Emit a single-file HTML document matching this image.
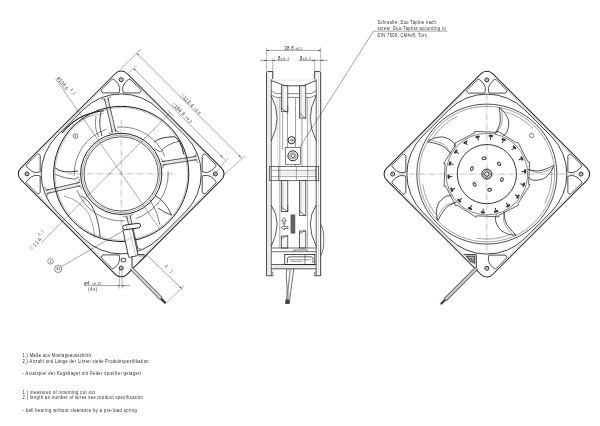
<!DOCTYPE html><html><head><meta charset="utf-8"><style>html,body{margin:0;padding:0;background:#fff;width:600px;height:426px;overflow:hidden}svg{display:block} text{-webkit-font-smoothing:antialiased}</style></head><body><svg width="600" height="426" viewBox="0 0 600 426" font-family="Liberation Sans, sans-serif">
<rect width="600" height="426" fill="#fff"/>
<g style="will-change:transform">
<g transform="translate(486.85,174.1) rotate(45)">
<rect x="-75.1" y="-75.1" width="150.2" height="150.2" rx="8.2" stroke="#222" stroke-width="1.0" fill="none"/>
</g>
<path d="M495.65,79.1 L506.95,90.4 Q506.85,92.5 505.05,93.1 L489.05,93.1 Q488.25,92.1 488.35,87.6 Q489.45,83.9 492.35,81.1 Q494.25,79.3 495.65,79.1Z" stroke="#222" stroke-width="0.8" fill="none" />
<path d="M478.05,79.1 L466.75,90.4 Q466.85,92.5 468.65,93.1 L484.65,93.1 Q485.45,92.1 485.35,87.6 Q484.25,83.9 481.35,81.1 Q479.45,79.3 478.05,79.1Z" stroke="#222" stroke-width="0.8" fill="none" />
<circle cx="486.85" cy="79.9" r="2" stroke="#222" stroke-width="1.0" fill="none" />
<circle cx="486.85" cy="79.9" r="0.7" stroke="#555" stroke-width="0.5" fill="none" />
<path d="M581.85,182.9 L570.55,194.2 Q568.45,194.1 567.85,192.3 L567.85,176.3 Q568.85,175.5 573.35,175.6 Q577.05,176.7 579.85,179.6 Q581.65,181.5 581.85,182.9Z" stroke="#222" stroke-width="0.8" fill="none" />
<path d="M581.85,165.3 L570.55,154 Q568.45,154.1 567.85,155.9 L567.85,171.9 Q568.85,172.7 573.35,172.6 Q577.05,171.5 579.85,168.6 Q581.65,166.7 581.85,165.3Z" stroke="#222" stroke-width="0.8" fill="none" />
<circle cx="581.05" cy="174.1" r="2" stroke="#222" stroke-width="1.0" fill="none" />
<circle cx="581.05" cy="174.1" r="0.7" stroke="#555" stroke-width="0.5" fill="none" />
<path d="M495.65,269.1 L506.95,257.8 Q506.85,255.7 505.05,255.1 L489.05,255.1 Q488.25,256.1 488.35,260.6 Q489.45,264.3 492.35,267.1 Q494.25,268.9 495.65,269.1Z" stroke="#222" stroke-width="0.8" fill="none" />
<circle cx="486.85" cy="268.3" r="2" stroke="#222" stroke-width="1.0" fill="none" />
<circle cx="486.85" cy="268.3" r="0.7" stroke="#555" stroke-width="0.5" fill="none" />
<path d="M391.85,165.3 L403.15,154 Q405.25,154.1 405.85,155.9 L405.85,171.9 Q404.85,172.7 400.35,172.6 Q396.65,171.5 393.85,168.6 Q392.05,166.7 391.85,165.3Z" stroke="#222" stroke-width="0.8" fill="none" />
<path d="M391.85,182.9 L403.15,194.2 Q405.25,194.1 405.85,192.3 L405.85,176.3 Q404.85,175.5 400.35,175.6 Q396.65,176.7 393.85,179.6 Q392.05,181.5 391.85,182.9Z" stroke="#222" stroke-width="0.8" fill="none" />
<circle cx="392.65" cy="174.1" r="2" stroke="#222" stroke-width="1.0" fill="none" />
<circle cx="392.65" cy="174.1" r="0.7" stroke="#555" stroke-width="0.5" fill="none" />
<g transform="translate(486.85,174.1) rotate(45)">
<rect x="-72.3" y="-72.3" width="144.6" height="144.6" rx="53.7" stroke="#222" stroke-width="0.8" fill="none"/>
<g transform="rotate(0)"><line x1="-73.6" y1="-52" x2="-73.6" y2="52" stroke="#aaa" stroke-width="1.2" stroke-dasharray="0.5,0.6"/></g>
<g transform="rotate(90)"><line x1="-73.6" y1="-52" x2="-73.6" y2="52" stroke="#aaa" stroke-width="1.2" stroke-dasharray="0.5,0.6"/></g>
<g transform="rotate(180)"><line x1="-73.6" y1="-52" x2="-73.6" y2="52" stroke="#aaa" stroke-width="1.2" stroke-dasharray="0.5,0.6"/></g>
<g transform="rotate(270)"><line x1="-73.6" y1="-52" x2="-73.6" y2="52" stroke="#aaa" stroke-width="1.2" stroke-dasharray="0.5,0.6"/></g>
</g>
<circle cx="486.85" cy="174.1" r="70" stroke="#222" stroke-width="0.8" fill="none" />
<circle cx="486.85" cy="174.1" r="67.8" stroke="#444" stroke-width="0.5" fill="none" />
<line x1="486.85" y1="94.1" x2="486.85" y2="254.1" stroke="#666" stroke-width="0.4" stroke-dasharray="6,1.5,1,1.5"/>
<line x1="398.85" y1="174.1" x2="576.85" y2="174.1" stroke="#666" stroke-width="0.4" stroke-dasharray="6,1.5,1,1.5"/>
<circle cx="486.85" cy="174.1" r="29.6" stroke="#222" stroke-width="0.9" fill="none" />
<circle cx="486.85" cy="174.1" r="5" stroke="#222" stroke-width="1.0" fill="none" />
<circle cx="486.85" cy="174.1" r="3.6" stroke="#444" stroke-width="0.6" fill="none" />
<circle cx="486.85" cy="174.1" r="2.2" stroke="#222" stroke-width="0.9" fill="none" />
<path d="M497.62,130.92 L516.71,143.16 L517.76,142.09 M517.76,142.09 L528.18,162.24 L529.63,161.83 M529.63,161.83 L528.57,184.5 L530.03,184.87 M530.03,184.87 L517.79,203.96 L518.86,205.01 M518.86,205.01 L498.71,215.43 L499.12,216.88 M499.12,216.88 L476.45,215.82 L476.08,217.28 M476.08,217.28 L456.99,205.04 L455.94,206.11 M455.94,206.11 L445.52,185.96 L444.07,186.37 M444.07,186.37 L445.13,163.7 L443.67,163.33 M443.67,163.33 L455.91,144.24 L454.84,143.19 M454.84,143.19 L474.99,132.77 L474.58,131.32 M474.58,131.32 L497.25,132.38 L497.62,130.92 " stroke="#222" stroke-width="0.7" fill="none" />
<circle cx="486.85" cy="174.1" r="40.8" stroke="#333" stroke-width="0.6" fill="none" />
<g transform="translate(490.85,136.01) rotate(6)"><rect x="-2.2" y="-1.1" width="4.4" height="2.0" rx="0.8" fill="#333"/><line x1="0" y1="0" x2="0" y2="3.6" stroke="#333" stroke-width="1.0"/></g>
<g transform="translate(503.64,139.68) rotate(26)"><rect x="-2.2" y="-1.1" width="4.4" height="2.0" rx="0.8" fill="#333"/><line x1="0" y1="0" x2="0" y2="3.6" stroke="#333" stroke-width="1.0"/></g>
<g transform="translate(514.4,147.49) rotate(46)"><rect x="-2.2" y="-1.1" width="4.4" height="2.0" rx="0.8" fill="#333"/><line x1="0" y1="0" x2="0" y2="3.6" stroke="#333" stroke-width="1.0"/></g>
<g transform="translate(521.84,158.52) rotate(66)"><rect x="-2.2" y="-1.1" width="4.4" height="2.0" rx="0.8" fill="#333"/><line x1="0" y1="0" x2="0" y2="3.6" stroke="#333" stroke-width="1.0"/></g>
<g transform="translate(525.06,171.43) rotate(86)"><rect x="-2.2" y="-1.1" width="4.4" height="2.0" rx="0.8" fill="#333"/><line x1="0" y1="0" x2="0" y2="3.6" stroke="#333" stroke-width="1.0"/></g>
<g transform="translate(523.67,184.66) rotate(106)"><rect x="-2.2" y="-1.1" width="4.4" height="2.0" rx="0.8" fill="#333"/><line x1="0" y1="0" x2="0" y2="3.6" stroke="#333" stroke-width="1.0"/></g>
<g transform="translate(517.84,196.61) rotate(126)"><rect x="-2.2" y="-1.1" width="4.4" height="2.0" rx="0.8" fill="#333"/><line x1="0" y1="0" x2="0" y2="3.6" stroke="#333" stroke-width="1.0"/></g>
<g transform="translate(508.27,205.85) rotate(146)"><rect x="-2.2" y="-1.1" width="4.4" height="2.0" rx="0.8" fill="#333"/><line x1="0" y1="0" x2="0" y2="3.6" stroke="#333" stroke-width="1.0"/></g>
<g transform="translate(496.12,211.26) rotate(166)"><rect x="-2.2" y="-1.1" width="4.4" height="2.0" rx="0.8" fill="#333"/><line x1="0" y1="0" x2="0" y2="3.6" stroke="#333" stroke-width="1.0"/></g>
<g transform="translate(482.85,212.19) rotate(186)"><rect x="-2.2" y="-1.1" width="4.4" height="2.0" rx="0.8" fill="#333"/><line x1="0" y1="0" x2="0" y2="3.6" stroke="#333" stroke-width="1.0"/></g>
<g transform="translate(470.06,208.52) rotate(206)"><rect x="-2.2" y="-1.1" width="4.4" height="2.0" rx="0.8" fill="#333"/><line x1="0" y1="0" x2="0" y2="3.6" stroke="#333" stroke-width="1.0"/></g>
<g transform="translate(459.3,200.71) rotate(226)"><rect x="-2.2" y="-1.1" width="4.4" height="2.0" rx="0.8" fill="#333"/><line x1="0" y1="0" x2="0" y2="3.6" stroke="#333" stroke-width="1.0"/></g>
<g transform="translate(451.86,189.68) rotate(246)"><rect x="-2.2" y="-1.1" width="4.4" height="2.0" rx="0.8" fill="#333"/><line x1="0" y1="0" x2="0" y2="3.6" stroke="#333" stroke-width="1.0"/></g>
<g transform="translate(448.64,176.77) rotate(266)"><rect x="-2.2" y="-1.1" width="4.4" height="2.0" rx="0.8" fill="#333"/><line x1="0" y1="0" x2="0" y2="3.6" stroke="#333" stroke-width="1.0"/></g>
<g transform="translate(450.03,163.54) rotate(286)"><rect x="-2.2" y="-1.1" width="4.4" height="2.0" rx="0.8" fill="#333"/><line x1="0" y1="0" x2="0" y2="3.6" stroke="#333" stroke-width="1.0"/></g>
<g transform="translate(455.86,151.59) rotate(306)"><rect x="-2.2" y="-1.1" width="4.4" height="2.0" rx="0.8" fill="#333"/><line x1="0" y1="0" x2="0" y2="3.6" stroke="#333" stroke-width="1.0"/></g>
<g transform="translate(465.43,142.35) rotate(326)"><rect x="-2.2" y="-1.1" width="4.4" height="2.0" rx="0.8" fill="#333"/><line x1="0" y1="0" x2="0" y2="3.6" stroke="#333" stroke-width="1.0"/></g>
<g transform="translate(477.58,136.94) rotate(346)"><rect x="-2.2" y="-1.1" width="4.4" height="2.0" rx="0.8" fill="#333"/><line x1="0" y1="0" x2="0" y2="3.6" stroke="#333" stroke-width="1.0"/></g>
<ellipse cx="484.07" cy="158.34" rx="1.3" ry="1.9" transform="rotate(-100 484.07 158.34)" fill="none" stroke="#333" stroke-width="1.0"/>
<ellipse cx="499.11" cy="163.82" rx="1.3" ry="1.9" transform="rotate(-40 499.11 163.82)" fill="none" stroke="#333" stroke-width="1.0"/>
<ellipse cx="501.89" cy="179.57" rx="1.3" ry="1.9" transform="rotate(20 501.89 179.57)" fill="none" stroke="#333" stroke-width="1.0"/>
<ellipse cx="489.63" cy="189.86" rx="1.3" ry="1.9" transform="rotate(80 489.63 189.86)" fill="none" stroke="#333" stroke-width="1.0"/>
<ellipse cx="474.59" cy="184.38" rx="1.3" ry="1.9" transform="rotate(140 474.59 184.38)" fill="none" stroke="#333" stroke-width="1.0"/>
<ellipse cx="471.81" cy="168.63" rx="1.3" ry="1.9" transform="rotate(200 471.81 168.63)" fill="none" stroke="#333" stroke-width="1.0"/>
<circle cx="531.6" cy="135.5" r="2.2" stroke="#333" stroke-width="0.6" fill="none" />
<path d="M527.79,169.44 C529.53,169.69 534.96,171.15 538.25,170.96 C541.55,170.76 544.98,169.2 547.57,168.25 C550.16,167.31 552.74,165.78 553.77,165.29" stroke="#222" stroke-width="0.8" fill="none" />
<path d="M527.79,169.44 C529.54,169.99 535.01,172.6 538.33,172.75 C541.66,172.91 545.12,171.23 547.74,170.38 C550.35,169.52 552.99,168.09 554.04,167.63" stroke="#444" stroke-width="0.5" fill="none" />
<path d="M528.32,177.36 C529.18,177.84 530.89,180.03 533.45,180.23 C536.01,180.44 540.78,179.97 543.67,178.57 C546.57,177.18 549.13,174.08 550.81,171.87 C552.49,169.65 553.28,166.39 553.77,165.29" stroke="#222" stroke-width="0.8" fill="none" />
<path d="M551.81,171.83 A65,65 0 0 1 544.77,203.61" stroke="#444" stroke-width="0.5" fill="none" />
<path d="M503.94,211.59 C504.23,213.33 504.52,218.94 505.72,222.02 C506.93,225.09 509.48,227.87 511.17,230.04 C512.87,232.21 515.12,234.19 515.91,235.02" stroke="#222" stroke-width="0.8" fill="none" />
<path d="M503.94,211.59 C503.95,213.43 503.16,219.44 504.04,222.65 C504.92,225.86 507.59,228.63 509.21,230.86 C510.83,233.08 513.01,235.14 513.77,236" stroke="#444" stroke-width="0.5" fill="none" />
<path d="M496.56,214.55 C496.37,215.51 494.82,217.82 495.42,220.31 C496.01,222.81 497.94,227.2 500.16,229.53 C502.38,231.85 506.11,233.32 508.74,234.24 C511.36,235.16 514.71,234.89 515.91,235.02" stroke="#222" stroke-width="0.8" fill="none" />
<path d="M509.08,235.18 A65,65 0 0 1 476.68,238.3" stroke="#444" stroke-width="0.5" fill="none" />
<path d="M456.47,201.93 C454.91,202.75 449.66,204.76 447.11,206.86 C444.56,208.96 442.7,212.24 441.16,214.52 C439.63,216.8 438.43,219.56 437.89,220.56" stroke="#222" stroke-width="0.8" fill="none" />
<path d="M456.47,201.93 C454.73,202.52 448.77,203.62 445.99,205.45 C443.21,207.28 441.4,210.67 439.78,212.9 C438.16,215.13 436.88,217.84 436.3,218.83" stroke="#444" stroke-width="0.5" fill="none" />
<path d="M451.38,195.84 C450.41,195.95 447.73,195.19 445.55,196.53 C443.36,197.87 439.77,201.05 438.25,203.88 C436.73,206.71 436.48,210.72 436.42,213.5 C436.36,216.28 437.64,219.39 437.89,220.56" stroke="#222" stroke-width="0.8" fill="none" />
<path d="M435.63,214.12 A65,65 0 0 1 422.65,184.27" stroke="#444" stroke-width="0.5" fill="none" />
<path d="M450.99,153.81 C449.73,152.58 446.2,148.21 443.42,146.43 C440.63,144.65 436.94,143.9 434.29,143.14 C431.64,142.38 428.66,142.1 427.53,141.89" stroke="#222" stroke-width="0.8" fill="none" />
<path d="M450.99,153.81 C449.89,152.33 447.01,147.01 444.41,144.93 C441.81,142.85 438.02,142.17 435.4,141.32 C432.78,140.48 429.81,140.09 428.69,139.84" stroke="#444" stroke-width="0.5" fill="none" />
<path d="M455.22,147.08 C454.81,146.19 454.71,143.41 452.76,141.75 C450.81,140.08 446.67,137.65 443.51,137.08 C440.35,136.51 436.45,137.51 433.79,138.31 C431.13,139.11 428.57,141.3 427.53,141.89" stroke="#222" stroke-width="0.8" fill="none" />
<path d="M432.96,137.75 A65,65 0 0 1 457.34,116.18" stroke="#444" stroke-width="0.5" fill="none" />
<path d="M495.06,133.73 C495.84,132.15 498.91,127.44 499.74,124.24 C500.58,121.04 500.15,117.3 500.05,114.55 C499.95,111.79 499.3,108.87 499.15,107.73" stroke="#222" stroke-width="0.8" fill="none" />
<path d="M495.06,133.73 C496.13,132.23 500.3,127.83 501.48,124.72 C502.65,121.61 502.13,117.8 502.12,115.04 C502.12,112.29 501.57,109.34 501.46,108.2" stroke="#444" stroke-width="0.5" fill="none" />
<path d="M502.77,135.67 C503.49,135 506.1,134.05 507.08,131.68 C508.07,129.31 509.1,124.62 508.66,121.44 C508.23,118.26 506.08,114.86 504.49,112.58 C502.91,110.29 500.04,108.54 499.15,107.73" stroke="#222" stroke-width="0.8" fill="none" />
<path d="M504.77,111.62 A65,65 0 0 1 532.81,128.14" stroke="#444" stroke-width="0.5" fill="none" />
<g transform="translate(121.2,173.9) rotate(45)">
<rect x="-75.1" y="-75.1" width="150.2" height="150.2" rx="8.2" stroke="#222" stroke-width="1.0" fill="none"/>
</g>
<path d="M130,78.9 L141.3,90.2 Q141.2,92.3 139.4,92.9 L123.4,92.9 Q122.6,91.9 122.7,87.4 Q123.8,83.7 126.7,80.9 Q128.6,79.1 130,78.9Z" stroke="#222" stroke-width="0.8" fill="none" />
<path d="M112.4,78.9 L101.1,90.2 Q101.2,92.3 103,92.9 L119,92.9 Q119.8,91.9 119.7,87.4 Q118.6,83.7 115.7,80.9 Q113.8,79.1 112.4,78.9Z" stroke="#222" stroke-width="0.8" fill="none" />
<circle cx="121.2" cy="79.7" r="2" stroke="#222" stroke-width="1.0" fill="none" />
<circle cx="121.2" cy="79.7" r="0.7" stroke="#555" stroke-width="0.5" fill="none" />
<path d="M216.2,182.7 L204.9,194 Q202.8,193.9 202.2,192.1 L202.2,176.1 Q203.2,175.3 207.7,175.4 Q211.4,176.5 214.2,179.4 Q216,181.3 216.2,182.7Z" stroke="#222" stroke-width="0.8" fill="none" />
<path d="M216.2,165.1 L204.9,153.8 Q202.8,153.9 202.2,155.7 L202.2,171.7 Q203.2,172.5 207.7,172.4 Q211.4,171.3 214.2,168.4 Q216,166.5 216.2,165.1Z" stroke="#222" stroke-width="0.8" fill="none" />
<circle cx="215.4" cy="173.9" r="2" stroke="#222" stroke-width="1.0" fill="none" />
<circle cx="215.4" cy="173.9" r="0.7" stroke="#555" stroke-width="0.5" fill="none" />
<path d="M112.4,268.9 L101.1,257.6 Q101.2,255.5 103,254.9 L119,254.9 Q119.8,255.9 119.7,260.4 Q118.6,264.1 115.7,266.9 Q113.8,268.7 112.4,268.9Z" stroke="#222" stroke-width="0.8" fill="none" />
<circle cx="121.2" cy="268.1" r="2" stroke="#222" stroke-width="1.0" fill="none" />
<circle cx="121.2" cy="268.1" r="0.7" stroke="#555" stroke-width="0.5" fill="none" />
<path d="M26.2,165.1 L37.5,153.8 Q39.6,153.9 40.2,155.7 L40.2,171.7 Q39.2,172.5 34.7,172.4 Q31,171.3 28.2,168.4 Q26.4,166.5 26.2,165.1Z" stroke="#222" stroke-width="0.8" fill="none" />
<path d="M26.2,182.7 L37.5,194 Q39.6,193.9 40.2,192.1 L40.2,176.1 Q39.2,175.3 34.7,175.4 Q31,176.5 28.2,179.4 Q26.4,181.3 26.2,182.7Z" stroke="#222" stroke-width="0.8" fill="none" />
<circle cx="27" cy="173.9" r="2" stroke="#222" stroke-width="1.0" fill="none" />
<circle cx="27" cy="173.9" r="0.7" stroke="#555" stroke-width="0.5" fill="none" />
<g transform="translate(121.2,173.9) rotate(45)">
<rect x="-72.3" y="-72.3" width="144.6" height="144.6" rx="53.7" stroke="#222" stroke-width="0.8" fill="none"/>
<g transform="rotate(0)"><line x1="-73.6" y1="-52" x2="-73.6" y2="52" stroke="#aaa" stroke-width="1.2" stroke-dasharray="0.5,0.6"/></g>
<g transform="rotate(90)"><line x1="-73.6" y1="-52" x2="-73.6" y2="52" stroke="#aaa" stroke-width="1.2" stroke-dasharray="0.5,0.6"/></g>
<g transform="rotate(180)"><line x1="-73.6" y1="-52" x2="-73.6" y2="52" stroke="#aaa" stroke-width="1.2" stroke-dasharray="0.5,0.6"/></g>
<g transform="rotate(270)"><line x1="-73.6" y1="-52" x2="-73.6" y2="52" stroke="#aaa" stroke-width="1.2" stroke-dasharray="0.5,0.6"/></g>
</g>
<circle cx="121.2" cy="173.9" r="67.6" stroke="#1a1a1a" stroke-width="1.0" fill="none" />
<circle cx="121.2" cy="173.9" r="66.3" stroke="#555" stroke-width="0.4" fill="none" />
<circle cx="121.2" cy="173.9" r="40.6" stroke="#222" stroke-width="1.0" fill="none" />
<circle cx="121.2" cy="173.9" r="38.8" stroke="#555" stroke-width="0.5" fill="none" />
<circle cx="121.2" cy="173.9" r="37.1" stroke="#333" stroke-width="0.8" fill="none" />
<line x1="121.2" y1="119.9" x2="121.2" y2="227.9" stroke="#666" stroke-width="0.4" stroke-dasharray="6,1.5,1,1.5"/>
<line x1="67.2" y1="173.9" x2="175.2" y2="173.9" stroke="#666" stroke-width="0.4" stroke-dasharray="6,1.5,1,1.5"/>
<line x1="107.76" y1="97.5" x2="115.85" y2="132.1" stroke="#222" stroke-width="0.75" />
<line x1="104.45" y1="98.27" x2="112.53" y2="132.88" stroke="#222" stroke-width="0.75" />
<path d="M108.26,99.66 L104.68,99.26 M108.63,101.23 L105.04,100.83 M109,102.8 L105.41,102.41 M109.36,104.37 L105.78,103.98 M109.73,105.95 L106.15,105.55 M110.1,107.52 L106.51,107.13 M110.47,109.09 L106.88,108.7 M110.83,110.67 L107.25,110.27 M111.2,112.24 L107.62,111.84 M111.57,113.81 L107.99,113.42 M111.94,115.38 L108.35,114.99 M112.3,116.96 L108.72,116.56 M112.67,118.53 L109.09,118.14 M113.04,120.1 L109.46,119.71 M113.41,121.68 L109.82,121.28 M113.78,123.25 L110.19,122.85 M114.14,124.82 L110.56,124.43 M114.51,126.39 L110.93,126 M114.88,127.97 L111.29,127.57 M115.25,129.54 L111.66,129.15 M115.61,131.11 L112.03,130.72 " stroke="#888" stroke-width="0.3" fill="none" />
<path d="M108.55,100.91 Q107.76,97.5 111.16,96.7" stroke="#333" stroke-width="0.6" fill="none" />
<path d="M105.24,101.68 Q104.45,98.27 101.04,99.07" stroke="#333" stroke-width="0.6" fill="none" />
<path d="M115.05,128.69 Q115.85,132.1 119.25,131.31" stroke="#333" stroke-width="0.6" fill="none" />
<path d="M111.74,129.47 Q112.53,132.88 109.13,133.67" stroke="#333" stroke-width="0.6" fill="none" />
<line x1="197.29" y1="159.56" x2="162.13" y2="165.07" stroke="#222" stroke-width="0.75" />
<line x1="196.76" y1="156.2" x2="161.6" y2="161.71" stroke="#222" stroke-width="0.75" />
<path d="M195.1,159.91 L195.76,156.36 M193.5,160.16 L194.16,156.61 M191.9,160.41 L192.56,156.86 M190.3,160.66 L190.96,157.11 M188.71,160.91 L189.36,157.36 M187.11,161.16 L187.77,157.61 M185.51,161.41 L186.17,157.86 M183.91,161.66 L184.57,158.11 M182.31,161.91 L182.97,158.36 M180.71,162.16 L181.37,158.61 M179.11,162.41 L179.77,158.86 M177.52,162.66 L178.18,159.11 M175.92,162.91 L176.58,159.36 M174.32,163.16 L174.98,159.61 M172.72,163.41 L173.38,159.86 M171.12,163.66 L171.78,160.11 M169.52,163.91 L170.18,160.36 M167.93,164.16 L168.59,160.61 M166.33,164.41 L166.99,160.86 M164.73,164.66 L165.39,161.11 M163.13,164.91 L163.79,161.36 " stroke="#888" stroke-width="0.3" fill="none" />
<path d="M193.83,160.1 Q197.29,159.56 197.83,163.02" stroke="#333" stroke-width="0.6" fill="none" />
<path d="M193.31,156.74 Q196.76,156.2 196.22,152.75" stroke="#333" stroke-width="0.6" fill="none" />
<path d="M165.58,164.52 Q162.13,165.07 162.67,168.52" stroke="#333" stroke-width="0.6" fill="none" />
<path d="M165.06,161.17 Q161.6,161.71 161.06,158.25" stroke="#333" stroke-width="0.6" fill="none" />
<line x1="45.46" y1="190.37" x2="80.05" y2="182.34" stroke="#222" stroke-width="0.75" />
<line x1="46.23" y1="193.68" x2="80.82" y2="185.65" stroke="#222" stroke-width="0.75" />
<path d="M47.62,189.87 L47.22,193.45 M49.19,189.5 L48.79,193.09 M50.76,189.14 L50.36,192.72 M52.34,188.77 L51.94,192.36 M53.91,188.41 L53.51,191.99 M55.48,188.04 L55.08,191.63 M57.05,187.68 L56.65,191.26 M58.62,187.31 L58.22,190.9 M60.2,186.95 L59.8,190.53 M61.77,186.58 L61.37,190.17 M63.34,186.22 L62.94,189.8 M64.91,185.85 L64.51,189.44 M66.48,185.49 L66.08,189.07 M68.06,185.12 L67.66,188.71 M69.63,184.76 L69.23,188.34 M71.2,184.39 L70.8,187.98 M72.77,184.03 L72.37,187.61 M74.34,183.66 L73.94,187.25 M75.92,183.3 L75.52,186.88 M77.49,182.93 L77.09,186.52 M79.06,182.57 L78.66,186.15 " stroke="#888" stroke-width="0.3" fill="none" />
<path d="M48.87,189.58 Q45.46,190.37 44.67,186.96" stroke="#333" stroke-width="0.6" fill="none" />
<path d="M49.64,192.89 Q46.23,193.68 47.02,197.09" stroke="#333" stroke-width="0.6" fill="none" />
<path d="M76.64,183.13 Q80.05,182.34 79.26,178.93" stroke="#333" stroke-width="0.6" fill="none" />
<path d="M77.41,186.44 Q80.82,185.65 81.61,189.06" stroke="#333" stroke-width="0.6" fill="none" />
<line x1="134.64" y1="250.3" x2="126.55" y2="215.7" stroke="#222" stroke-width="0.75" />
<line x1="137.95" y1="249.53" x2="129.87" y2="214.92" stroke="#222" stroke-width="0.75" />
<path d="M134.14,248.14 L137.72,248.54 M133.77,246.57 L137.36,246.97 M133.4,245 L136.99,245.39 M133.04,243.43 L136.62,243.82 M132.67,241.85 L136.25,242.25 M132.3,240.28 L135.89,240.67 M131.93,238.71 L135.52,239.1 M131.57,237.13 L135.15,237.53 M131.2,235.56 L134.78,235.96 M130.83,233.99 L134.41,234.38 M130.46,232.42 L134.05,232.81 M130.1,230.84 L133.68,231.24 M129.73,229.27 L133.31,229.66 M129.36,227.7 L132.94,228.09 M128.99,226.12 L132.58,226.52 M128.62,224.55 L132.21,224.95 M128.26,222.98 L131.84,223.37 M127.89,221.41 L131.47,221.8 M127.52,219.83 L131.11,220.23 M127.15,218.26 L130.74,218.65 M126.79,216.69 L130.37,217.08 " stroke="#888" stroke-width="0.3" fill="none" />
<path d="M133.85,246.89 Q134.64,250.3 131.24,251.1" stroke="#333" stroke-width="0.6" fill="none" />
<path d="M137.16,246.12 Q137.95,249.53 141.36,248.73" stroke="#333" stroke-width="0.6" fill="none" />
<path d="M127.35,219.11 Q126.55,215.7 123.15,216.49" stroke="#333" stroke-width="0.6" fill="none" />
<path d="M130.66,218.33 Q129.87,214.92 133.27,214.13" stroke="#333" stroke-width="0.6" fill="none" />
<path d="M117.1,127.08 A47,47 0 0 1 164.78,156.29" stroke="#333" stroke-width="0.6" fill="none" />
<path d="M168.14,171.44 A47,47 0 0 1 135.72,218.6" stroke="#333" stroke-width="0.6" fill="none" />
<path d="M124.48,220.79 A47,47 0 0 1 77.03,189.97" stroke="#333" stroke-width="0.6" fill="none" />
<path d="M74.23,175.54 A47,47 0 0 1 106.68,129.2" stroke="#333" stroke-width="0.6" fill="none" />
<path d="M154.4,142 Q160,137 174.3,136.7 Q181,140 183.7,154.3" stroke="#222" stroke-width="0.9" fill="none" />
<path d="M154.4,148.5 L160.3,152 Q166,144 180,141" stroke="#333" stroke-width="0.7" fill="none" />
<path d="M55,167.7 Q62,174 78,171" stroke="#222" stroke-width="0.9" fill="none" />
<path d="M55,174.3 Q64,178.5 74.7,179.2 L79,177" stroke="#333" stroke-width="0.7" fill="none" />
<path d="M101,112 Q98,125 102,136" stroke="#222" stroke-width="0.8" fill="none" />
<path d="M62,133 Q72,121 84,115.5 Q95,111.5 104.2,110.8" stroke="#1a1a1a" stroke-width="1.1" fill="none" />
<path d="M64,133.5 Q76,121.5 88,117 Q97,114 104,113.2" stroke="#555" stroke-width="0.4" fill="none" />
<path d="M96,116 Q94,130 99,137" stroke="#333" stroke-width="0.6" fill="none" />
<path d="M156,196 Q166,202 171.6,215.2 Q163,212 158,208" stroke="#222" stroke-width="0.8" fill="none" />
<path d="M150,200 Q158,212 160,225" stroke="#333" stroke-width="0.6" fill="none" />
<path d="M80.8,195.8 Q97,203 100.2,237" stroke="#222" stroke-width="0.8" fill="none" />
<path d="M64,196 Q80,200 89,214 Q94,226 95,238" stroke="#444" stroke-width="0.5" fill="none" />
<line x1="55.6" y1="78.8" x2="159.6" y2="228.7" stroke="#444" stroke-width="0.45" />
<line x1="41.4" y1="242.5" x2="170.3" y2="112.5" stroke="#444" stroke-width="0.45" />
<line x1="167.5" y1="110" x2="173.5" y2="116" stroke="#333" stroke-width="0.5" />
<circle cx="75.5" cy="136.1" r="2.4" stroke="#333" stroke-width="0.6" fill="none" />
<circle cx="75.5" cy="136.1" r="0.6" stroke="#333" stroke-width="0.5" fill="none" />
<polyline points="266.6,275.8 266.6,72.6 267.6,71.6 272.8,71.6 272.8,79.1" stroke="#222" stroke-width="0.9" fill="none"/>
<polyline points="320.7,275.8 320.7,72.6 319.7,71.6 314.7,71.6 314.7,79.1" stroke="#222" stroke-width="0.9" fill="none"/>
<line x1="271.2" y1="79.1" x2="271.2" y2="275.8" stroke="#333" stroke-width="0.8" />
<line x1="316.2" y1="79.1" x2="316.2" y2="275.8" stroke="#333" stroke-width="0.8" />
<line x1="268.8" y1="73" x2="268.8" y2="275" stroke="#999" stroke-width="0.35" />
<line x1="318.5" y1="73" x2="318.5" y2="275" stroke="#999" stroke-width="0.35" />
<line x1="266.6" y1="275.8" x2="272.8" y2="275.8" stroke="#222" stroke-width="0.8" />
<line x1="314.7" y1="275.8" x2="320.7" y2="275.8" stroke="#222" stroke-width="0.8" />
<polyline points="271.2,272 272.8,272 272.8,276" stroke="#333" stroke-width="0.6" fill="none"/>
<polyline points="316.2,272 314.7,272 314.7,276" stroke="#333" stroke-width="0.6" fill="none"/>
<polyline points="271.2,80.5 285.2,85.8 303,85.8 316.2,80.5" stroke="#222" stroke-width="0.8" fill="none"/>
<line x1="271.2" y1="80.2" x2="316.2" y2="80.2" stroke="#aaa" stroke-width="0.3" />
<polyline points="271.2,91 276,93.6 311,93.6 316.2,91" stroke="#333" stroke-width="0.6" fill="none"/>
<polyline points="271.2,95 276,97.4 311,97.4 316.2,95" stroke="#333" stroke-width="0.6" fill="none"/>
<rect x="281.3" y="85.8" width="6.5" height="25.8" fill="#f6f6f6" stroke="#222" stroke-width="0.7"/>
<line x1="282.9" y1="87" x2="282.9" y2="109.6" stroke="#666" stroke-width="0.4" />
<rect x="299.4" y="85.8" width="6.4" height="32.2" fill="#f6f6f6" stroke="#222" stroke-width="0.7"/>
<line x1="301" y1="87" x2="301" y2="116" stroke="#666" stroke-width="0.4" />
<path d="M281.3,108 L287.8,113 L287.8,106" stroke="#333" stroke-width="0.6" fill="none" />
<path d="M299.4,113 L305.8,119" stroke="#333" stroke-width="0.6" fill="none" />
<path d="M271.2,95.6 Q283,118 271.2,140.7" stroke="#222" stroke-width="0.75" fill="none" />
<path d="M316.2,95.6 Q304.4,118 316.2,140.7" stroke="#222" stroke-width="0.75" fill="none" />
<path d="M271.2,205 Q283,222.5 271.2,246.4" stroke="#222" stroke-width="0.75" fill="none" />
<path d="M316.2,205 Q304.4,222.5 316.2,246.4" stroke="#222" stroke-width="0.75" fill="none" />
<line x1="279.8" y1="97.4" x2="279.8" y2="248" stroke="#555" stroke-width="0.5" />
<line x1="307.6" y1="97.4" x2="307.6" y2="248" stroke="#555" stroke-width="0.5" />
<line x1="282.7" y1="112" x2="282.7" y2="150" stroke="#444" stroke-width="0.5" />
<line x1="287.5" y1="112" x2="287.5" y2="150" stroke="#444" stroke-width="0.5" />
<line x1="295.5" y1="98" x2="295.5" y2="166" stroke="#444" stroke-width="0.5" />
<line x1="301.9" y1="118" x2="301.9" y2="166" stroke="#444" stroke-width="0.5" />
<line x1="277.5" y1="98" x2="277.5" y2="166" stroke="#999" stroke-width="0.3" />
<line x1="310" y1="98" x2="310" y2="166" stroke="#999" stroke-width="0.3" />
<circle cx="291.6" cy="140.2" r="3.6" stroke="#222" stroke-width="1.0" fill="#fff" />
<path d="M289.5,140.2 L293.7,140.2 M291.6,138.5 L293.2,140.2 L291.6,141.9" stroke="#333" stroke-width="0.7" fill="none" />
<rect x="285.5" y="147.5" width="15" height="17" stroke="#333" stroke-width="0.6" fill="#fff"/>
<circle cx="292.9" cy="155.8" r="5" stroke="#222" stroke-width="1.0" fill="none" />
<circle cx="292.9" cy="155.8" r="3.2" stroke="#444" stroke-width="0.6" fill="none" />
<circle cx="292.9" cy="155.8" r="1.8" stroke="#222" stroke-width="0.7" fill="none" />
<rect x="269.7" y="166.5" width="49" height="14.2" stroke="#333" stroke-width="0.7" fill="none"/>
<line x1="271.2" y1="170.3" x2="316.2" y2="170.3" stroke="#555" stroke-width="0.5" />
<line x1="271.2" y1="176.6" x2="316.2" y2="176.6" stroke="#555" stroke-width="0.5" />
<line x1="278.5" y1="166.5" x2="278.5" y2="180.7" stroke="#333" stroke-width="0.5" />
<line x1="296.4" y1="166.5" x2="296.4" y2="180.7" stroke="#333" stroke-width="0.4" />
<line x1="315.7" y1="166.5" x2="315.7" y2="180.7" stroke="#333" stroke-width="0.5" />
<path d="M279,172 L315.5,171.2 M279,173.5 L315.5,172.7 M279,175 L315.5,174.2 " stroke="#aaa" stroke-width="0.3" fill="none" />
<rect x="281.3" y="180.7" width="6.5" height="30.9" fill="#f6f6f6" stroke="#222" stroke-width="0.7"/>
<line x1="282.9" y1="182" x2="282.9" y2="209.6" stroke="#666" stroke-width="0.4" />
<rect x="299.4" y="180.7" width="6.4" height="34.8" fill="#f6f6f6" stroke="#222" stroke-width="0.7"/>
<line x1="301" y1="182" x2="301" y2="213.5" stroke="#666" stroke-width="0.4" />
<path d="M281.3,207 L287.8,212 L287.8,205" stroke="#333" stroke-width="0.6" fill="none" />
<path d="M299.4,211 L305.8,216" stroke="#333" stroke-width="0.6" fill="none" />
<rect x="281.3" y="236" width="6.5" height="12" fill="#f6f6f6" stroke="#222" stroke-width="0.7"/>
<rect x="299.4" y="231" width="6.4" height="17" fill="#f6f6f6" stroke="#222" stroke-width="0.7"/>
<path d="M281.3,239 L287.8,235" stroke="#333" stroke-width="0.6" fill="none" />
<path d="M299.4,234 L305.8,230" stroke="#333" stroke-width="0.6" fill="none" />
<path d="M284,217.5 L281.6,220.8 L283.1,220.8 L283.1,224 L284.9,224 L284.9,220.8 L286.4,220.8 Z" stroke="#222" stroke-width="0.6" fill="none" />
<path d="M281.2,227.6 L284.5,225.4 L284.5,226.7 L288,226.7 L288,228.5 L284.5,228.5 L284.5,229.8 Z" stroke="#222" stroke-width="0.6" fill="none" />
<rect x="290.6" y="214.5" width="4.6" height="19" fill="#444"/>
<line x1="290.6" y1="216" x2="295.2" y2="216" stroke="#bbb" stroke-width="0.5" />
<line x1="290.6" y1="218" x2="295.2" y2="218" stroke="#bbb" stroke-width="0.5" />
<line x1="290.6" y1="220" x2="295.2" y2="220" stroke="#bbb" stroke-width="0.5" />
<line x1="290.6" y1="222" x2="295.2" y2="222" stroke="#bbb" stroke-width="0.5" />
<line x1="290.6" y1="224" x2="295.2" y2="224" stroke="#bbb" stroke-width="0.5" />
<line x1="290.6" y1="226" x2="295.2" y2="226" stroke="#bbb" stroke-width="0.5" />
<line x1="290.6" y1="228" x2="295.2" y2="228" stroke="#bbb" stroke-width="0.5" />
<line x1="290.6" y1="230" x2="295.2" y2="230" stroke="#bbb" stroke-width="0.5" />
<line x1="290.6" y1="232" x2="295.2" y2="232" stroke="#bbb" stroke-width="0.5" />
<line x1="271.2" y1="248" x2="316.2" y2="248" stroke="#333" stroke-width="0.7" />
<line x1="271.2" y1="251.7" x2="316.2" y2="251.7" stroke="#333" stroke-width="0.7" />
<rect x="284.8" y="254.5" width="30" height="10" stroke="#222" stroke-width="0.8" fill="none"/>
<polyline points="293.5,251.7 294.2,250 307,250 307.6,251.7" stroke="#333" stroke-width="0.7" fill="none"/>
<path d="M287.5,263 L287.5,258.5 Q287.5,256.8 289.5,256.8 L311,256.8 Q313,256.8 313,258.8 L313,263" stroke="#222" stroke-width="0.7" fill="none" />
<line x1="289.5" y1="259.8" x2="311" y2="259.8" stroke="#333" stroke-width="0.5" />
<line x1="305" y1="254.5" x2="305" y2="264.5" stroke="#333" stroke-width="0.6" />
<line x1="291" y1="261.5" x2="302" y2="261.5" stroke="#555" stroke-width="0.5" />
<line x1="271.2" y1="264.6" x2="316.2" y2="264.6" stroke="#222" stroke-width="0.8" />
<line x1="271.2" y1="268.8" x2="316.2" y2="268.8" stroke="#222" stroke-width="0.8" />
<path d="M273,266.4 L315,265.6 M273,267.6 L315,266.8 " stroke="#aaa" stroke-width="0.3" fill="none" />
<path d="M320.7,224.5 Q323.8,229 323.8,240 Q323.8,251 320.7,255.5" stroke="#333" stroke-width="0.7" fill="none" />
<path d="M286.8,268.8 C285,278 289,290 286,303.5" stroke="#333" stroke-width="0.7" fill="none" />
<path d="M293.8,268.8 C292,280 291,292 289.2,303.5" stroke="#333" stroke-width="0.7" fill="none" />
<path d="M289,268.8 C292,280 284.5,292 288,303.5" stroke="#555" stroke-width="0.5" fill="none" />
<path d="M291.5,268.8 C286,282 291,294 287,303" stroke="#555" stroke-width="0.5" fill="none" />
<rect x="285.4" y="299.5" width="4" height="4.5" fill="#444"/>
<line x1="266.6" y1="47.5" x2="266.6" y2="71.6" stroke="#444" stroke-width="0.4" />
<line x1="320.7" y1="47.5" x2="320.7" y2="71.6" stroke="#444" stroke-width="0.4" />
<line x1="266.6" y1="50.4" x2="320.7" y2="50.4" stroke="#333" stroke-width="0.45" />
<polygon points="266.6,50.4 268.8,51 268.8,49.8" fill="#222"/>
<polygon points="320.7,50.4 318.5,49.8 318.5,51" fill="#222"/>
<text transform="translate(284.3,49.6) scale(0.88,1)" x="0" y="0" font-size="5.0" textLength="10.68" lengthAdjust="spacing" fill="#222" >38.8</text>
<text transform="translate(295.2,49.6) scale(0.88,1)" x="0" y="0" font-size="3.6" textLength="7.95" lengthAdjust="spacing" fill="#222" >±0.5</text>
<line x1="272.8" y1="58.5" x2="272.8" y2="71.6" stroke="#444" stroke-width="0.4" />
<line x1="314.7" y1="58.5" x2="314.7" y2="71.6" stroke="#444" stroke-width="0.4" />
<line x1="259.7" y1="60.4" x2="289" y2="60.4" stroke="#333" stroke-width="0.45" />
<line x1="298.7" y1="60.4" x2="327.7" y2="60.4" stroke="#333" stroke-width="0.45" />
<polygon points="266.6,60.4 264.4,59.8 264.4,61" fill="#222"/>
<polygon points="272.8,60.4 275,61 275,59.8" fill="#222"/>
<polygon points="314.7,60.4 312.5,59.8 312.5,61" fill="#222"/>
<polygon points="320.7,60.4 322.9,61 322.9,59.8" fill="#222"/>
<text transform="translate(278,59.5) scale(0.88,1)" x="0" y="0" font-size="5.0" textLength="2.5" lengthAdjust="spacing" fill="#222" >8</text>
<text transform="translate(281,59.5) scale(0.88,1)" x="0" y="0" font-size="3.6" textLength="9.09" lengthAdjust="spacing" fill="#222" >±0.1</text>
<text transform="translate(300,59.5) scale(0.88,1)" x="0" y="0" font-size="5.0" textLength="2.5" lengthAdjust="spacing" fill="#222" >8</text>
<text transform="translate(303,59.5) scale(0.88,1)" x="0" y="0" font-size="3.6" textLength="9.09" lengthAdjust="spacing" fill="#222" >±0.1</text>
<line x1="373.5" y1="31.1" x2="299.4" y2="147.8" stroke="#333" stroke-width="0.45" />
<line x1="373.5" y1="31.1" x2="447.5" y2="31.1" stroke="#333" stroke-width="0.45" />
<text transform="translate(377.5,23.9) scale(0.7,1)" x="0" y="0" font-size="5.6" textLength="83.29" lengthAdjust="spacing" fill="#222" >Schraube: Duo Taptite nach</text>
<text transform="translate(377.5,29.6) scale(0.7,1)" x="0" y="0" font-size="5.6" textLength="97.57" lengthAdjust="spacing" fill="#222" >screw: Duo-Taptite according to</text>
<text transform="translate(377.5,37) scale(0.7,1)" x="0" y="0" font-size="5.6" textLength="70.29" lengthAdjust="spacing" fill="#222" >DIN 7500; CM4x8; Torx</text>
<text transform="translate(22.5,356.8) scale(0.7,1)" x="0" y="0" font-size="5.8" textLength="97.86" lengthAdjust="spacing" fill="#222" >1.) Maße aus Montageausschnitt</text>
<text transform="translate(22.5,363) scale(0.7,1)" x="0" y="0" font-size="5.8" textLength="180" lengthAdjust="spacing" fill="#222" >2.) Anzahl und Länge der Litzen siehe Produktspezifikation</text>
<text transform="translate(22.5,375.2) scale(0.7,1)" x="0" y="0" font-size="5.8" textLength="169.29" lengthAdjust="spacing" fill="#222" >- Axialspiel der Kugellager mit Feder spielfrei gelagert</text>
<text transform="translate(22.5,393.6) scale(0.7,1)" x="0" y="0" font-size="5.8" textLength="103.57" lengthAdjust="spacing" fill="#222" >1.) measures of mounting cut out</text>
<text transform="translate(22.5,399.2) scale(0.7,1)" x="0" y="0" font-size="5.8" textLength="171.71" lengthAdjust="spacing" fill="#222" >2.) length an number of wires see product specification</text>
<text transform="translate(22.5,411.6) scale(0.7,1)" x="0" y="0" font-size="5.8" textLength="163.29" lengthAdjust="spacing" fill="#222" >- ball bearing without clearance by a pre-load spring</text>
<line x1="118.5" y1="71.3" x2="140.5" y2="49.5" stroke="#444" stroke-width="0.4" />
<line x1="136.8" y1="53.3" x2="242.3" y2="158.8" stroke="#333" stroke-width="0.45" />
<line x1="222" y1="176.5" x2="245.5" y2="155.5" stroke="#444" stroke-width="0.4" />
<polygon points="136.8,53.3 137.93,55.28 138.78,54.43" fill="#222"/>
<polygon points="240.8,157.3 239.67,155.32 238.82,156.17" fill="#222"/>
<text transform="translate(180.5,96.2) rotate(45) scale(0.88,1)" x="0" y="0" font-size="5.2" textLength="18.18" lengthAdjust="spacing" fill="#222" >□119.4</text>
<text transform="translate(193.5,109) rotate(45) scale(0.88,1)" x="0" y="0" font-size="3.8" textLength="9.09" lengthAdjust="spacing" fill="#222" >±0.5</text>
<line x1="127.7" y1="73.7" x2="136.5" y2="65.5" stroke="#444" stroke-width="0.4" />
<line x1="133.7" y1="68.5" x2="225.5" y2="160.3" stroke="#333" stroke-width="0.45" />
<line x1="212.5" y1="176.5" x2="228.5" y2="157.5" stroke="#444" stroke-width="0.4" />
<polygon points="133.7,68.5 134.83,70.48 135.68,69.63" fill="#222"/>
<polygon points="222.5,157.3 221.37,155.32 220.52,156.17" fill="#222"/>
<text transform="translate(171.8,104.7) rotate(45) scale(0.88,1)" x="0" y="0" font-size="5.2" textLength="18.18" lengthAdjust="spacing" fill="#222" >□104.8</text>
<text transform="translate(184.8,117.5) rotate(45) scale(0.88,1)" x="0" y="0" font-size="3.8" textLength="9.09" lengthAdjust="spacing" fill="#222" >±0.3</text>
<text transform="translate(56.8,78) rotate(55.3) scale(0.88,1)" x="0" y="0" font-size="5.4" textLength="17.61" lengthAdjust="spacing" fill="#222" >ø126.5</text>
<text transform="translate(70.2,89.6) rotate(55.3) scale(0.88,1)" x="0" y="0" font-size="4.2" textLength="6.82" lengthAdjust="spacing" fill="#222" >1.)</text>
<text transform="translate(31.8,249.8) rotate(-45) scale(0.88,1)" x="0" y="0" font-size="5.4" textLength="15.91" lengthAdjust="spacing" fill="#222" >□114</text>
<text transform="translate(39.3,236) rotate(-45) scale(0.88,1)" x="0" y="0" font-size="4.2" textLength="6.82" lengthAdjust="spacing" fill="#222" >1.)</text>
<circle cx="50.5" cy="261.3" r="2.8" stroke="#333" stroke-width="0.5" fill="none" />
<text x="50.5" y="262.6" font-size="3.0"   text-anchor="middle" fill="#222" >6</text>
<circle cx="58.2" cy="268.9" r="3.6" stroke="#333" stroke-width="0.6" fill="none" />
<text x="58.2" y="270.3" font-size="3.6" textLength="4.6" lengthAdjust="spacingAndGlyphs"  text-anchor="middle" fill="#222" >31</text>
<line x1="61.5" y1="266.6" x2="127" y2="228.5" stroke="#333" stroke-width="0.45" />
<line x1="84" y1="285.6" x2="130" y2="285.6" stroke="#333" stroke-width="0.45" />
<line x1="119.4" y1="268" x2="119.4" y2="288.5" stroke="#444" stroke-width="0.4" />
<line x1="122" y1="268" x2="122" y2="288.5" stroke="#444" stroke-width="0.4" />
<polygon points="119.4,285.6 117.6,285 117.6,286.2" fill="#222"/>
<polygon points="122,285.6 123.8,286.2 123.8,285" fill="#222"/>
<text transform="translate(84,284.6) scale(0.88,1)" x="0" y="0" font-size="5.0" textLength="6.25" lengthAdjust="spacing" fill="#222" >ø4</text>
<text transform="translate(92,284.6) scale(0.88,1)" x="0" y="0" font-size="3.6" textLength="10.23" lengthAdjust="spacing" fill="#222" >±0.15</text>
<text transform="translate(88.2,291.2) scale(0.88,1)" x="0" y="0" font-size="4.6" textLength="10.23" lengthAdjust="spacing" fill="#222" >(4x)</text>
<line x1="146.8" y1="255" x2="182.5" y2="289.3" stroke="#333" stroke-width="0.45" />
<line x1="166.5" y1="302.8" x2="184" y2="286" stroke="#444" stroke-width="0.4" />
<polygon points="181.2,288 180.35,286.3 179.5,287.15" fill="#222"/>
<text transform="translate(164.5,266.5) rotate(45) scale(0.88,1)" x="0" y="0" font-size="4.4" textLength="10.23" lengthAdjust="spacing" fill="#222" >2.)</text>
<g transform="translate(131.3,268.3) rotate(45.5)">
<rect x="0" y="-1.6" width="42.5" height="3.2" fill="#bbb" stroke="#222" stroke-width="0.6"/>
<line x1="0" y1="0" x2="42.5" y2="0" stroke="#fff" stroke-width="0.7"/>
<rect x="42.5" y="-1.1" width="6.5" height="2.2" fill="#333"/>
</g>
<polygon points="145.1,254.2 131.4,254.2 131.4,268.0" fill="#fff" stroke="none"/>
<polyline points="144.7,254.6 132,254.6 132,267.6" stroke="#222" stroke-width="0.9" fill="none"/>
<g transform="translate(130.5,242.8) rotate(-12)">
<rect x="-4.8" y="-14" width="9.6" height="28" rx="0.8" stroke="#222" stroke-width="0.8" fill="#fff"/>
<line x1="1.5" y1="-14" x2="2.5" y2="14" stroke="#888" stroke-width="0.4"/>
<line x1="-4.8" y1="-3" x2="4.8" y2="-5" stroke="#888" stroke-width="0.4"/>
</g>
<g transform="translate(131.6,226.5) rotate(-8)">
<rect x="-9" y="-2.3" width="18" height="4.6" rx="2.3" stroke="#222" stroke-width="0.9" fill="#fff"/>
<line x1="-5" y1="-2.3" x2="-5" y2="2.3" stroke="#555" stroke-width="0.5"/>
</g>
<path d="M138.5,256 L146.5,256 L139.5,262.5" stroke="#333" stroke-width="0.6" fill="none" />
<rect x="121.3" y="258.4" width="4.4" height="3.4" rx="0.6" stroke="#222" stroke-width="0.8" fill="none"/>
<polygon points="463.2,254.2 476.9,254.2 476.9,268.0" fill="#fff" stroke="none"/>
<polyline points="463.6,254.6 476.3,254.6 476.3,267.6" stroke="#222" stroke-width="0.9" fill="none"/>
<polygon points="466,256 474.8,256 474.8,263.5 470.5,261.5" fill="#777" stroke="#222" stroke-width="0.6"/>
<line x1="468.5" y1="257.6" x2="473.3" y2="257.6" stroke="#fff" stroke-width="0.5" />
<line x1="472" y1="256.8" x2="473.5" y2="260" stroke="#fff" stroke-width="0.5" />
<g transform="translate(476.5,268.4) rotate(135)">
<rect x="0" y="-1.6" width="44" height="3.2" fill="#bbb" stroke="#222" stroke-width="0.6"/>
<line x1="0" y1="0" x2="44" y2="0" stroke="#fff" stroke-width="0.7"/>
<rect x="44" y="-1.1" width="6.5" height="2.2" fill="#333"/>
</g>
</g></svg></body></html>
